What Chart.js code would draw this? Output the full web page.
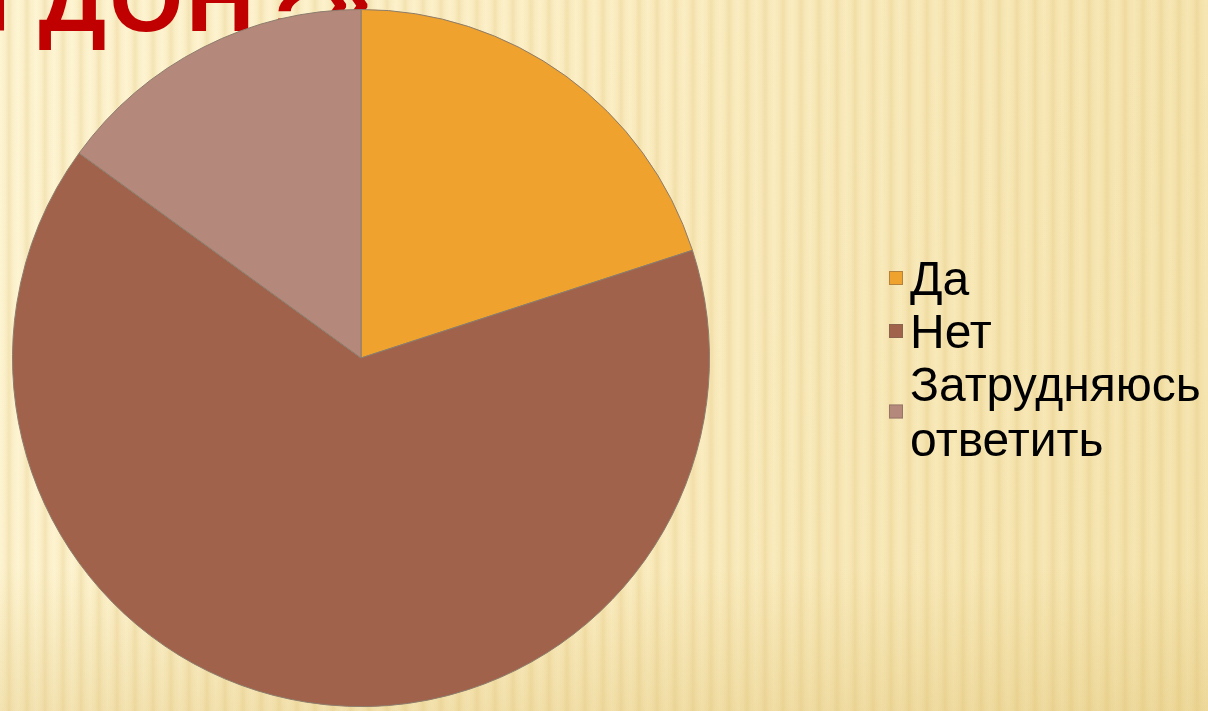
<!DOCTYPE html>
<html>
<head>
<meta charset="utf-8">
<script src="https://cdn.jsdelivr.net/npm/chart.js@4"></script>
<style>
    html, body { margin: 0; padding: 0; }
    body {
        width: 1208px;
        height: 711px;
        overflow: hidden;
        background:
            repeating-linear-gradient(90deg,
                rgba(214, 178, 90, 0.00) 0px,
                rgba(214, 178, 90, 0.08) 5px,
                rgba(214, 178, 90, 0.24) 9px,
                rgba(214, 178, 90, 0.08) 13px,
                rgba(214, 178, 90, 0.00) 18px),
            linear-gradient(180deg, rgba(0,0,0,0) 0%, rgba(0,0,0,0) 80%, rgba(220, 190, 110, 0.30) 100%),
            linear-gradient(100deg, #fef5d4 0%, #fcefc6 45%, #f5e4ae 100%);
    }
    #wrap { position: absolute; left: 0; top: 0; width: 1208px; height: 711px; }
</style>
</head>
<body>
<div id="wrap"><canvas id="pieChart"></canvas></div>
<script>
// 데이터
const labels = ['Да', 'Нет', ['Затрудняюсь', 'ответить']];
const values = [20, 65, 15];
const colors = ['#efa22d', '#a1624b', '#b4897c'];
const titleText = 'ГДОН?»';

// 제목 (파이 뒤에 그림, 위쪽이 잘려 보임)
const titlePlugin = {
    id: 'titleBehind',
    beforeDatasetsDraw(chart) {
        const ctx = chart.ctx;
        ctx.save();
        ctx.font = 'bold 95px "Liberation Sans", Arial, sans-serif';
        ctx.letterSpacing = '3px';
        ctx.fillStyle = '#c00000';
        ctx.textBaseline = 'alphabetic';
        ctx.textAlign = 'left';
        ctx.fillText(titleText, -16, 31);
        ctx.restore();
    }
};

// 범례 (오른쪽)
const legendPlugin = {
    id: 'sideLegend',
    afterDraw(chart) {
        const ctx = chart.ctx;
        const ds = chart.data.datasets[0];
        const lineH = 55;
        let baseline = 295;
        ctx.save();
        ctx.font = '48px "Liberation Sans", Arial, sans-serif';
        ctx.textBaseline = 'alphabetic';
        ctx.textAlign = 'left';
        chart.data.labels.forEach((label, i) => {
            const lines = Array.isArray(label) ? label : [label];
            const top = baseline - 34;
            const bottom = baseline + (lines.length - 1) * lineH;
            const mid = (top + bottom) / 2;
            ctx.fillStyle = ds.backgroundColor[i];
            ctx.fillRect(889, mid - 7, 14, 14);
            ctx.strokeStyle = 'rgba(120, 100, 80, 0.5)';
            ctx.lineWidth = 1;
            ctx.strokeRect(889.5, mid - 6.5, 13, 13);
            ctx.fillStyle = '#000000';
            lines.forEach((t, j) => ctx.fillText(t, 910, baseline + j * lineH));
            baseline = bottom + lineH - 2;
        });
        ctx.restore();
    }
};

new Chart(document.getElementById('pieChart'), {
    type: 'pie',
    data: {
        labels: labels,
        datasets: [{
            data: values,
            backgroundColor: colors,
            borderColor: '#8c7c6c',
            borderWidth: 1
        }]
    },
    options: {
        responsive: true,
        maintainAspectRatio: false,
        animation: false,
        layout: { padding: { left: 12, top: 9, bottom: 4, right: 498 } },
        plugins: {
            legend: { display: false },
            tooltip: { enabled: false }
        }
    },
    plugins: [titlePlugin, legendPlugin]
});
</script>
</body>
</html>
